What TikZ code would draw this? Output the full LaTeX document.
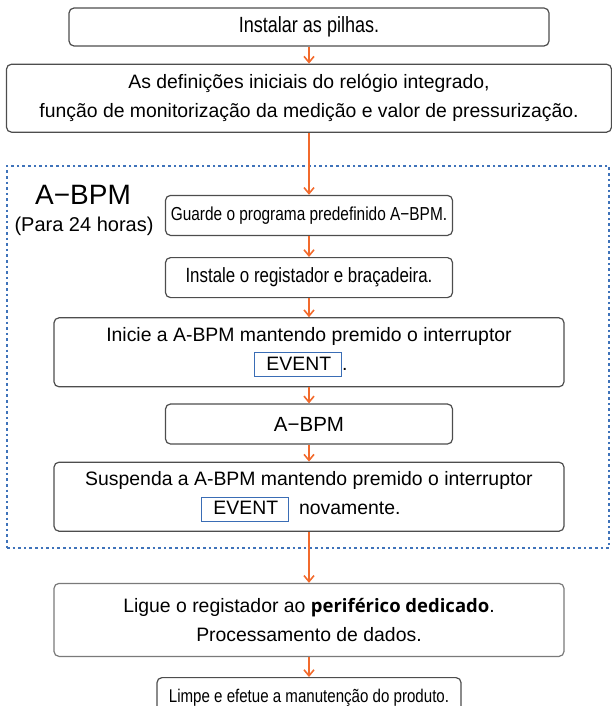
\documentclass[tikz,border=0pt]{standalone}
\usepackage{fontspec}
\setmainfont{Liberation Sans}
\newfontfamily\narrowfont[FakeStretch=0.82]{Liberation Sans}
\newfontfamily\accentfont{Open Sans}
\usepackage{tikz}
\usetikzlibrary{positioning,arrows.meta}

\definecolor{flowarrow}{HTML}{F26A2C}
\definecolor{boxline}{HTML}{4D4D4D}
\definecolor{softline}{HTML}{7A7A7A}
\definecolor{frameblue}{HTML}{3F73BA}
\definecolor{keyblue}{HTML}{3A6DB5}

\newcommand{\eventkey}{{\setlength{\fboxsep}{0pt}\setlength{\fboxrule}{1pt}\fcolorbox{keyblue}{white}{\rule[-6pt]{0pt}{23pt}\hspace{11pt}EVENT\hspace{10pt}}}}

\begin{document}
\begin{tikzpicture}[x=1pt, y=-1pt,
            stepbox/.style={draw=boxline, line width=1.2pt, rectangle, rounded corners=5pt, inner sep=0pt, align=center, font=\fontsize{19.4}{29}\selectfont},
            narrowbox/.style={stepbox, font=\fontsize{#1}{29}\selectfont\narrowfont},
            edge/.style={draw=flowarrow, line width=2pt, -{Straight Barb[length=6pt, width=10pt, line width=1.6pt]}},
            abpmframe/.style={draw=frameblue, line width=2.6pt, dash pattern=on 2.6pt off 3pt, rectangle, inner sep=0pt},
            framelabel/.style={inner sep=0pt, align=center}
        ]
        \useasboundingbox (0,0) rectangle (611,706);

        % Rahmen A-BPM
        \node[abpmframe, minimum width=602pt, minimum height=382pt] (frame) at (308,357) {};
        \node[framelabel, font=\fontsize{28}{30}\selectfont] (title) at (83,195) {A−BPM};
        \node[framelabel, font=\fontsize{20}{22}\selectfont] (span) at (84,226) {(Para 24 horas)};

        % Knoten
        \node[narrowbox=22, minimum width=480pt, minimum height=38pt] (pilhas) at (309,27) {Instalar as pilhas.};
        \node[stepbox, minimum width=605pt, minimum height=68pt, below=17pt of pilhas] (config) {As definições iniciais do relógio integrado,\\função de monitorização da medição e valor de pressurização.};
        \node[narrowbox=18.8, minimum width=287pt, minimum height=40pt, below=62pt of config] (guarde) {Guarde o programa predefinido A−BPM.};
        \node[narrowbox=20.6, minimum width=287pt, minimum height=40pt, below=21pt of guarde] (instale) {Instale o registador e braçadeira.};
        \node[stepbox, minimum width=510pt, minimum height=69pt, below=19pt of instale] (inicie) {Inicie a A-BPM mantendo premido o interruptor\\\eventkey.\hspace*{16pt}};
        \node[stepbox, minimum width=287pt, minimum height=40pt, below=16pt of inicie, font=\fontsize{20.5}{29}\selectfont] (abpm) {A−BPM};
        \node[stepbox, minimum width=510pt, minimum height=69pt, below=17pt of abpm] (suspenda) {Suspenda a A-BPM mantendo premido o interruptor\\\eventkey\hspace{10pt}novamente.\hspace*{16pt}};
        \node[stepbox, draw=softline, minimum width=510pt, minimum height=73pt, below=51pt of suspenda] (ligue) {Ligue o registador ao {\accentfont\bfseries\fontsize{18.5}{29}\selectfont periférico dedicado}.\\Processamento de dados.};
        \node[narrowbox=18.4, minimum width=304pt, minimum height=40pt, below=20pt of ligue] (limpe) {Limpe e efetue a manutenção do produto.};

        % Kanten zwischen Knoten
        \draw[edge] (pilhas.south) -- (config.north);
        \draw[edge] (config.south) -- (guarde.north);
        \draw[edge] (guarde.south) -- (instale.north);
        \draw[edge] (instale.south) -- (inicie.north);
        \draw[edge] (inicie.south) -- (abpm.north);
        \draw[edge] (abpm.south) -- (suspenda.north);
        \draw[edge] (suspenda.south) -- (ligue.north);
        \draw[edge] (ligue.south) -- (limpe.north);

    \end{tikzpicture}
\end{document}
